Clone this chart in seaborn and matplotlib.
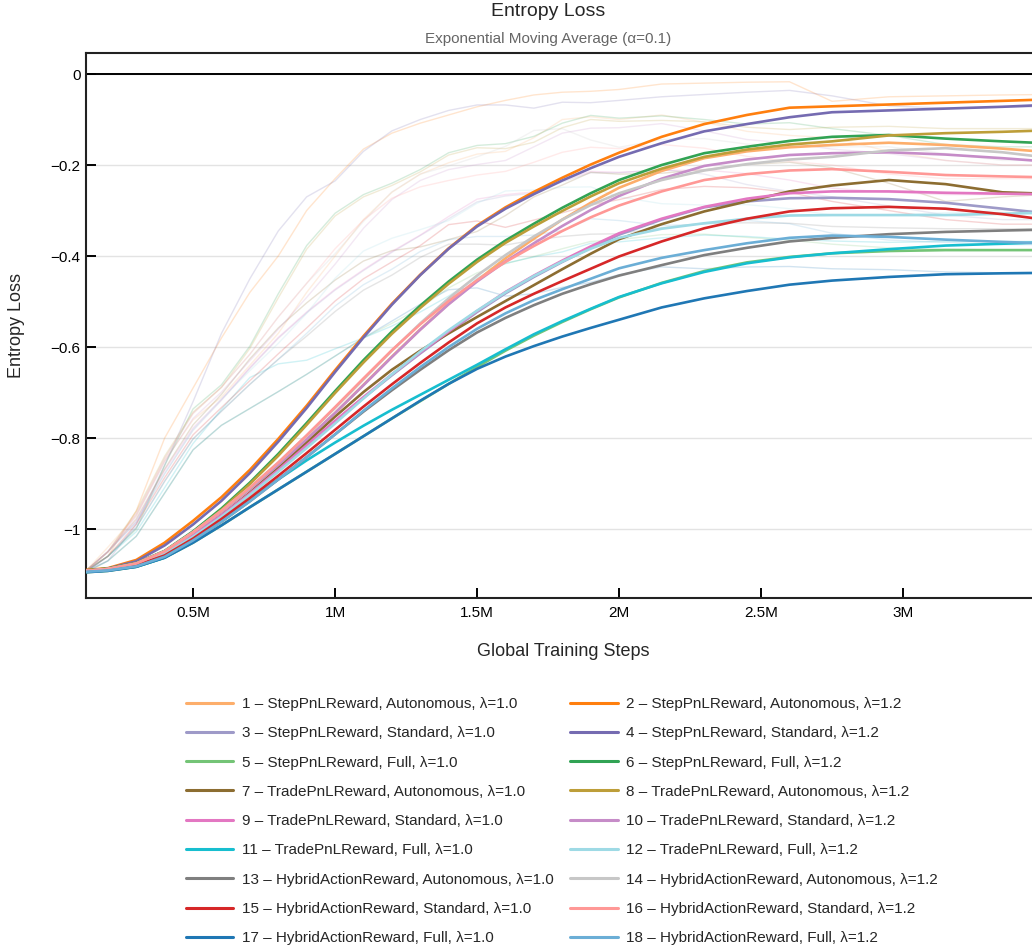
import matplotlib
matplotlib.use("Agg")
import matplotlib.pyplot as plt
import seaborn as sns
from matplotlib.ticker import FixedLocator, FuncFormatter

# ---------------- data ----------------
steps_m = [0.123, 0.2, 0.3, 0.4, 0.5, 0.6, 0.7, 0.8, 0.9, 1.0, 1.1, 1.2, 1.3, 1.4, 1.5,
           1.6, 1.7, 1.8, 1.9, 2.0, 2.15, 2.3, 2.45, 2.6, 2.75, 2.95, 3.15, 3.35, 3.5]

labels = [
    "1 – StepPnLReward, Autonomous, λ=1.0", "2 – StepPnLReward, Autonomous, λ=1.2",
    "3 – StepPnLReward, Standard, λ=1.0", "4 – StepPnLReward, Standard, λ=1.2",
    "5 – StepPnLReward, Full, λ=1.0", "6 – StepPnLReward, Full, λ=1.2",
    "7 – TradePnLReward, Autonomous, λ=1.0", "8 – TradePnLReward, Autonomous, λ=1.2",
    "9 – TradePnLReward, Standard, λ=1.0", "10 – TradePnLReward, Standard, λ=1.2",
    "11 – TradePnLReward, Full, λ=1.0", "12 – TradePnLReward, Full, λ=1.2",
    "13 – HybridActionReward, Autonomous, λ=1.0", "14 – HybridActionReward, Autonomous, λ=1.2",
    "15 – HybridActionReward, Standard, λ=1.0", "16 – HybridActionReward, Standard, λ=1.2",
    "17 – HybridActionReward, Full, λ=1.0", "18 – HybridActionReward, Full, λ=1.2",
]

colors = ["#fdae6b", "#ff7f0e", "#9e9ac8", "#756bb1", "#74c476", "#31a354",
          "#8c6d31", "#bd9e39", "#e377c2", "#c68cc8", "#17becf", "#9edae5",
          "#7f7f7f", "#c7c7c7", "#d62728", "#ff9896", "#1f77b4", "#6baed6"]

# EMA-smoothed values
ema_01 = [-1.092,-1.088,-1.076,-1.049,-1.008,-0.962,-0.912,-0.859,-0.803,-0.745,-0.683,-0.621,-0.561,-0.505,-0.454,-0.405,-0.362,-0.320,-0.283,-0.250,-0.213,-0.185,-0.170,-0.161,-0.156,-0.151,-0.156,-0.164,-0.171]
ema_02 = [-1.090,-1.086,-1.068,-1.030,-0.982,-0.930,-0.870,-0.802,-0.729,-0.651,-0.576,-0.505,-0.441,-0.383,-0.333,-0.293,-0.259,-0.228,-0.199,-0.173,-0.138,-0.110,-0.090,-0.074,-0.071,-0.067,-0.063,-0.059,-0.056]
ema_03 = [-1.092,-1.088,-1.078,-1.054,-1.016,-0.972,-0.924,-0.872,-0.818,-0.764,-0.712,-0.662,-0.614,-0.568,-0.523,-0.482,-0.446,-0.413,-0.382,-0.353,-0.320,-0.293,-0.280,-0.273,-0.272,-0.275,-0.283,-0.296,-0.306]
ema_04 = [-1.092,-1.087,-1.071,-1.036,-0.990,-0.938,-0.877,-0.808,-0.734,-0.655,-0.579,-0.507,-0.442,-0.384,-0.335,-0.296,-0.264,-0.234,-0.207,-0.182,-0.152,-0.126,-0.110,-0.095,-0.084,-0.080,-0.076,-0.072,-0.068]
ema_05 = [-1.095,-1.092,-1.083,-1.063,-1.030,-0.992,-0.952,-0.913,-0.874,-0.835,-0.796,-0.757,-0.719,-0.681,-0.644,-0.608,-0.575,-0.545,-0.517,-0.491,-0.459,-0.433,-0.414,-0.402,-0.394,-0.389,-0.387,-0.387,-0.387]
ema_06 = [-1.091,-1.087,-1.075,-1.048,-1.005,-0.955,-0.898,-0.835,-0.767,-0.697,-0.629,-0.566,-0.509,-0.456,-0.408,-0.366,-0.329,-0.294,-0.262,-0.233,-0.200,-0.174,-0.160,-0.147,-0.138,-0.134,-0.142,-0.148,-0.152]
ema_07 = [-1.092,-1.088,-1.077,-1.053,-1.015,-0.970,-0.920,-0.866,-0.810,-0.753,-0.699,-0.650,-0.608,-0.570,-0.534,-0.499,-0.464,-0.429,-0.395,-0.363,-0.330,-0.302,-0.280,-0.258,-0.245,-0.233,-0.242,-0.260,-0.263]
ema_08 = [-1.091,-1.087,-1.075,-1.049,-1.007,-0.958,-0.901,-0.839,-0.771,-0.701,-0.634,-0.571,-0.514,-0.461,-0.413,-0.371,-0.335,-0.301,-0.269,-0.240,-0.208,-0.182,-0.166,-0.155,-0.148,-0.135,-0.130,-0.127,-0.124]
ema_09 = [-1.092,-1.088,-1.078,-1.053,-1.014,-0.970,-0.922,-0.870,-0.816,-0.762,-0.710,-0.660,-0.612,-0.566,-0.521,-0.479,-0.443,-0.410,-0.379,-0.350,-0.318,-0.292,-0.274,-0.262,-0.258,-0.258,-0.261,-0.263,-0.264]
ema_10 = [-1.092,-1.088,-1.076,-1.050,-1.008,-0.962,-0.912,-0.859,-0.803,-0.745,-0.684,-0.622,-0.562,-0.506,-0.456,-0.412,-0.372,-0.334,-0.299,-0.268,-0.230,-0.202,-0.188,-0.178,-0.174,-0.172,-0.177,-0.185,-0.192]
ema_11 = [-1.094,-1.091,-1.083,-1.063,-1.027,-0.982,-0.935,-0.891,-0.849,-0.810,-0.773,-0.738,-0.705,-0.672,-0.639,-0.605,-0.572,-0.543,-0.516,-0.490,-0.460,-0.435,-0.416,-0.403,-0.394,-0.385,-0.377,-0.373,-0.370]
ema_12 = [-1.093,-1.089,-1.079,-1.055,-1.017,-0.973,-0.925,-0.874,-0.822,-0.768,-0.713,-0.660,-0.610,-0.563,-0.520,-0.480,-0.444,-0.412,-0.384,-0.360,-0.340,-0.328,-0.318,-0.311,-0.310,-0.310,-0.310,-0.307,-0.305]
ema_13 = [-1.094,-1.091,-1.082,-1.061,-1.025,-0.984,-0.939,-0.891,-0.842,-0.792,-0.742,-0.695,-0.650,-0.607,-0.568,-0.536,-0.508,-0.483,-0.462,-0.443,-0.420,-0.398,-0.382,-0.368,-0.360,-0.352,-0.347,-0.344,-0.342]
ema_14 = [-1.092,-1.088,-1.076,-1.049,-1.007,-0.960,-0.909,-0.854,-0.795,-0.734,-0.671,-0.608,-0.548,-0.493,-0.443,-0.398,-0.357,-0.320,-0.288,-0.262,-0.233,-0.212,-0.198,-0.188,-0.182,-0.168,-0.163,-0.172,-0.183]
ema_15 = [-1.093,-1.090,-1.080,-1.058,-1.021,-0.978,-0.932,-0.883,-0.833,-0.782,-0.731,-0.682,-0.635,-0.590,-0.548,-0.513,-0.483,-0.455,-0.428,-0.401,-0.368,-0.339,-0.318,-0.302,-0.295,-0.292,-0.296,-0.308,-0.320]
ema_16 = [-1.092,-1.088,-1.076,-1.049,-1.007,-0.960,-0.909,-0.854,-0.794,-0.732,-0.669,-0.607,-0.550,-0.499,-0.453,-0.413,-0.378,-0.345,-0.315,-0.289,-0.258,-0.233,-0.220,-0.212,-0.209,-0.215,-0.222,-0.225,-0.227]
ema_17 = [-1.095,-1.092,-1.083,-1.063,-1.030,-0.992,-0.952,-0.913,-0.874,-0.835,-0.796,-0.757,-0.718,-0.681,-0.648,-0.621,-0.598,-0.577,-0.558,-0.540,-0.513,-0.493,-0.477,-0.463,-0.454,-0.446,-0.440,-0.438,-0.437]
ema_18 = [-1.094,-1.091,-1.082,-1.061,-1.025,-0.984,-0.939,-0.891,-0.842,-0.792,-0.740,-0.691,-0.644,-0.600,-0.560,-0.526,-0.497,-0.473,-0.450,-0.427,-0.404,-0.387,-0.372,-0.360,-0.355,-0.358,-0.364,-0.369,-0.372]

# raw (unsmoothed) values, drawn faintly
raw_01 = [-1.092,-1.040,-0.970,-0.850,-0.760,-0.710,-0.640,-0.570,-0.480,-0.400,-0.320,-0.260,-0.220,-0.195,-0.176,-0.170,-0.140,-0.100,-0.094,-0.100,-0.090,-0.106,-0.126,-0.135,-0.140,-0.170,-0.190,-0.200,-0.200]
raw_02 = [-1.090,-1.060,-0.960,-0.800,-0.690,-0.580,-0.480,-0.400,-0.300,-0.230,-0.165,-0.130,-0.108,-0.090,-0.072,-0.058,-0.046,-0.040,-0.038,-0.034,-0.022,-0.020,-0.018,-0.017,-0.060,-0.050,-0.048,-0.046,-0.045]
raw_03 = [-1.092,-1.050,-0.985,-0.878,-0.783,-0.717,-0.647,-0.581,-0.525,-0.475,-0.432,-0.392,-0.355,-0.318,-0.281,-0.268,-0.262,-0.237,-0.217,-0.217,-0.210,-0.220,-0.243,-0.258,-0.270,-0.290,-0.310,-0.320,-0.320]
raw_04 = [-1.092,-1.070,-0.990,-0.860,-0.720,-0.570,-0.450,-0.345,-0.270,-0.235,-0.170,-0.125,-0.100,-0.080,-0.068,-0.068,-0.075,-0.062,-0.063,-0.058,-0.050,-0.045,-0.040,-0.036,-0.048,-0.070,-0.075,-0.073,-0.072]
raw_05 = [-1.095,-1.070,-1.016,-0.921,-0.826,-0.772,-0.735,-0.698,-0.660,-0.620,-0.580,-0.548,-0.514,-0.470,-0.437,-0.417,-0.401,-0.384,-0.368,-0.364,-0.353,-0.352,-0.359,-0.365,-0.374,-0.382,-0.385,-0.387,-0.387]
raw_06 = [-1.091,-1.060,-1.000,-0.860,-0.736,-0.683,-0.598,-0.483,-0.377,-0.306,-0.265,-0.240,-0.210,-0.173,-0.157,-0.153,-0.137,-0.108,-0.091,-0.097,-0.092,-0.100,-0.110,-0.107,-0.120,-0.135,-0.155,-0.160,-0.160]
raw_07 = [-1.092,-1.050,-0.978,-0.868,-0.771,-0.704,-0.626,-0.558,-0.503,-0.453,-0.411,-0.388,-0.380,-0.364,-0.346,-0.311,-0.270,-0.244,-0.216,-0.220,-0.218,-0.210,-0.199,-0.194,-0.206,-0.240,-0.280,-0.270,-0.265]
raw_08 = [-1.091,-1.050,-0.961,-0.840,-0.743,-0.689,-0.603,-0.492,-0.385,-0.312,-0.270,-0.245,-0.215,-0.178,-0.162,-0.164,-0.150,-0.118,-0.100,-0.104,-0.102,-0.105,-0.117,-0.122,-0.117,-0.115,-0.120,-0.120,-0.120]
raw_09 = [-1.092,-1.050,-0.982,-0.871,-0.778,-0.715,-0.645,-0.579,-0.523,-0.473,-0.430,-0.390,-0.354,-0.313,-0.275,-0.265,-0.259,-0.234,-0.214,-0.216,-0.212,-0.211,-0.219,-0.233,-0.251,-0.260,-0.265,-0.265,-0.265]
raw_10 = [-1.092,-1.050,-0.972,-0.852,-0.757,-0.699,-0.630,-0.561,-0.491,-0.418,-0.339,-0.276,-0.234,-0.210,-0.199,-0.190,-0.160,-0.130,-0.119,-0.118,-0.109,-0.125,-0.144,-0.152,-0.165,-0.175,-0.190,-0.200,-0.200]
raw_11 = [-1.094,-1.060,-1.006,-0.909,-0.812,-0.737,-0.667,-0.637,-0.629,-0.604,-0.580,-0.554,-0.523,-0.488,-0.448,-0.416,-0.402,-0.391,-0.372,-0.369,-0.360,-0.354,-0.357,-0.363,-0.367,-0.370,-0.368,-0.368,-0.368]
raw_12 = [-1.093,-1.050,-0.985,-0.879,-0.781,-0.714,-0.652,-0.592,-0.526,-0.449,-0.389,-0.361,-0.342,-0.322,-0.284,-0.257,-0.255,-0.249,-0.248,-0.270,-0.285,-0.288,-0.287,-0.296,-0.310,-0.310,-0.305,-0.300,-0.300]
raw_13 = [-1.094,-1.060,-0.997,-0.895,-0.802,-0.741,-0.682,-0.627,-0.576,-0.522,-0.475,-0.442,-0.403,-0.374,-0.374,-0.376,-0.365,-0.357,-0.352,-0.351,-0.338,-0.328,-0.327,-0.328,-0.335,-0.338,-0.340,-0.340,-0.340]
raw_14 = [-1.092,-1.050,-0.966,-0.845,-0.746,-0.688,-0.616,-0.534,-0.460,-0.395,-0.324,-0.259,-0.220,-0.202,-0.182,-0.159,-0.124,-0.120,-0.145,-0.161,-0.144,-0.142,-0.154,-0.159,-0.160,-0.160,-0.175,-0.190,-0.190]
raw_15 = [-1.093,-1.060,-0.989,-0.887,-0.793,-0.733,-0.674,-0.615,-0.558,-0.499,-0.450,-0.413,-0.377,-0.331,-0.323,-0.337,-0.321,-0.305,-0.288,-0.276,-0.254,-0.247,-0.250,-0.260,-0.280,-0.300,-0.320,-0.330,-0.330]
raw_16 = [-1.092,-1.050,-0.966,-0.845,-0.746,-0.688,-0.616,-0.534,-0.460,-0.384,-0.321,-0.273,-0.248,-0.234,-0.222,-0.214,-0.194,-0.172,-0.161,-0.164,-0.155,-0.163,-0.181,-0.192,-0.200,-0.220,-0.230,-0.230,-0.230]
raw_17 = [-1.095,-1.070,-1.016,-0.921,-0.826,-0.772,-0.735,-0.698,-0.660,-0.620,-0.580,-0.543,-0.506,-0.474,-0.470,-0.488,-0.483,-0.469,-0.458,-0.441,-0.424,-0.428,-0.424,-0.423,-0.428,-0.430,-0.435,-0.437,-0.437]
raw_18 = [-1.094,-1.060,-0.997,-0.895,-0.802,-0.741,-0.682,-0.627,-0.570,-0.510,-0.463,-0.429,-0.390,-0.364,-0.357,-0.357,-0.354,-0.344,-0.318,-0.322,-0.333,-0.330,-0.322,-0.329,-0.350,-0.365,-0.370,-0.375,-0.375]

ema_series = [ema_01, ema_02, ema_03, ema_04, ema_05, ema_06, ema_07, ema_08, ema_09,
              ema_10, ema_11, ema_12, ema_13, ema_14, ema_15, ema_16, ema_17, ema_18]
raw_series = [raw_01, raw_02, raw_03, raw_04, raw_05, raw_06, raw_07, raw_08, raw_09,
              raw_10, raw_11, raw_12, raw_13, raw_14, raw_15, raw_16, raw_17, raw_18]

x_ticks_m = [0.5, 1, 1.5, 2, 2.5, 3]
y_ticks = [0, -0.2, -0.4, -0.6, -0.8, -1]

# ---------------- figure ----------------
sns.set_style("white")
plt.rcParams['font.family'] = ['Liberation Sans', 'DejaVu Sans']

W, H = 1032, 947
fig = plt.figure(figsize=(W / 100, H / 100), dpi=100)
ax_l, ax_r, ax_t, ax_b = 86, 1040, 53, 598
ax = fig.add_axes([ax_l / W, 1 - ax_b / H, (ax_r - ax_l) / W, (ax_b - ax_t) / H])

steps = [s * 1e6 for s in steps_m]

# faint raw curves
for i, ys in enumerate(raw_series):
    sns.lineplot(x=steps, y=ys, ax=ax, color=colors[i], lw=1.0, alpha=0.2,
                 legend=False, zorder=1)

# smoothed curves
for i, ys in enumerate(ema_series):
    sns.lineplot(x=steps, y=ys, ax=ax, color=colors[i], lw=1.9, label=labels[i],
                 zorder=3)

ax.axhline(0, color="black", lw=1.4, zorder=2)

ax.set_xlim(0.123e6, 0.123e6 + (ax_r - ax_l) / 284 * 1e6)
ax.set_ylim(-1.1516, 0.0462)

ax.xaxis.set_major_locator(FixedLocator([v * 1e6 for v in x_ticks_m]))
ax.xaxis.set_major_formatter(FuncFormatter(lambda v, p: f"{v / 1e6:g}M"))
ax.yaxis.set_major_locator(FixedLocator(y_ticks))
ax.yaxis.set_major_formatter(FuncFormatter(lambda v, p: f"{v:g}".replace("-", "\u2212")))

ax.tick_params(axis="both", direction="in", length=7, width=1.4, labelsize=11,
               colors="black", pad=4, bottom=True, left=True, top=False, right=False)
ax.tick_params(axis="x", pad=6)
ax.yaxis.grid(True, color="#e3e3e3", lw=1.0)
ax.xaxis.grid(False)
ax.set_axisbelow(True)
for side in ["left", "bottom", "top", "right"]:
    ax.spines[side].set_color("#222222")
    ax.spines[side].set_linewidth(1.5)

ax.set_xlabel("")
ax.set_ylabel("")
fig.text(563 / W, 1 - 651 / H, "Global Training Steps", ha="center", va="center", fontsize=13)
fig.text(17 / W, 1 - 326 / H, "Entropy Loss", ha="center", va="center", fontsize=13,
         rotation=90)
fig.text(548 / W, 1 - 12 / H, "Entropy Loss", ha="center", va="center", fontsize=14)
fig.text(548 / W, 1 - 39 / H, "Exponential Moving Average (α=0.1)", ha="center",
         va="center", fontsize=11, color="#666666")

handles, labs = ax.get_legend_handles_labels()
order = list(range(0, 18, 2)) + list(range(1, 18, 2))
leg = ax.legend([handles[k] for k in order], [labs[k] for k in order],
                ncol=2, loc="upper left", bbox_to_anchor=(186 / W, 1 - 697 / H),
                bbox_transform=fig.transFigure, frameon=False, fontsize=11,
                handlelength=3.1, handletextpad=0.55, columnspacing=1.1,
                labelspacing=1.0, borderpad=0, borderaxespad=0)
for lh in leg.get_lines():
    lh.set_linewidth(2.2)

fig.savefig("out.png", dpi=100)
